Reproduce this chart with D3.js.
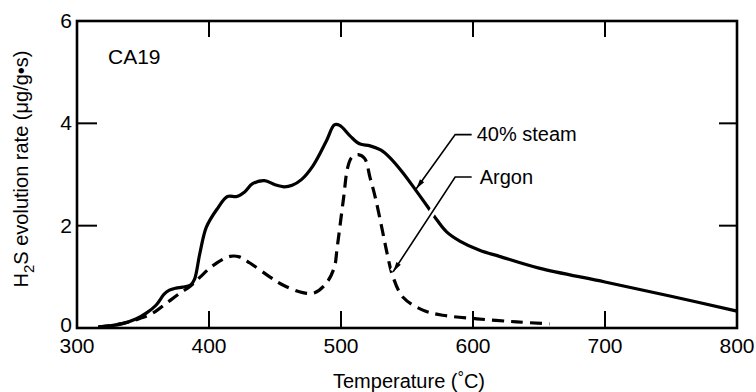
<!DOCTYPE html>
<html>
<head>
<meta charset="utf-8">
<script src="https://cdn.jsdelivr.net/npm/d3@7"></script>
<style>
  body { margin: 0; background: #fff; }
  text { font-family: "Liberation Sans", Arial, sans-serif; fill: #000; }
</style>
</head>
<body>
<div id="chart"></div>
<script>
// 40% steam (solid) - temperature, rate
var steamT = [316, 325, 335, 345, 353, 360, 366, 370, 375, 380, 386, 389, 393, 398, 406, 414, 421, 427, 433, 442, 450, 457, 463, 470, 479, 489, 495, 499, 507, 514, 522, 530, 537, 547, 557, 567, 573, 580, 590, 605, 620, 650, 700, 750, 800];
var steamV = [0.02, 0.04, 0.09, 0.18, 0.3, 0.45, 0.66, 0.74, 0.78, 0.8, 0.84, 0.95, 1.45, 1.97, 2.32, 2.57, 2.57, 2.66, 2.82, 2.88, 2.8, 2.76, 2.79, 2.9, 3.18, 3.66, 3.97, 3.96, 3.75, 3.6, 3.56, 3.48, 3.33, 3.03, 2.68, 2.32, 2.1, 1.88, 1.7, 1.52, 1.4, 1.17, 0.9, 0.62, 0.33];

// Argon (dashed)
var argonT = [316, 335, 348, 358, 368, 378, 386, 393, 403, 416, 423, 431, 446, 456, 471, 480, 489, 495, 497, 502, 505, 508, 513, 518, 522, 526, 531, 535, 539, 547, 562, 577, 603, 633, 658];
var argonV = [0.02, 0.09, 0.19, 0.3, 0.49, 0.68, 0.82, 0.99, 1.22, 1.4, 1.39, 1.27, 1.0, 0.84, 0.69, 0.69, 0.88, 1.19, 1.55, 2.55, 3.13, 3.33, 3.39, 3.31, 2.94, 2.55, 1.95, 1.45, 1.03, 0.6, 0.35, 0.25, 0.18, 0.12, 0.08];

var xTicks = [300, 400, 500, 600, 700, 800];
var yTicks = [0, 2, 4, 6];

// leader lines: [tip, elbow, end] in data units
var steamLeader = [[557, 2.72], [586.5, 3.78], [599, 3.78]];
var argonLeader = [[539.5, 1.1], [586.5, 2.95], [599, 2.95]];

var W = 756, H = 392;
var margin = {top: 21, right: 19, bottom: 64, left: 77};
var w = W - margin.left - margin.right,
    h = H - margin.top - margin.bottom;

var svg = d3.select("#chart").append("svg")
    .attr("width", W)
    .attr("height", H);

var g = svg.append("g")
    .attr("transform", "translate(" + margin.left + "," + margin.top + ")");

var x = d3.scaleLinear().domain([300, 800]).range([0, w]);
var y = d3.scaleLinear().domain([0, 6]).range([h, 0]);

// inward ticks on all four sides
var inner = xTicks.slice(1, -1);
var innerY = yTicks.slice(1, -1);
g.selectAll(".tb").data(inner).enter().append("line")
    .attr("x1", d => x(d)).attr("x2", d => x(d))
    .attr("y1", h).attr("y2", h - 17)
    .attr("stroke", "#000").attr("stroke-width", 2);
g.selectAll(".tt").data(inner).enter().append("line")
    .attr("x1", d => x(d)).attr("x2", d => x(d))
    .attr("y1", 0).attr("y2", 16)
    .attr("stroke", "#000").attr("stroke-width", 2);
g.selectAll(".tl").data(innerY).enter().append("line")
    .attr("x1", 0).attr("x2", 20)
    .attr("y1", d => y(d)).attr("y2", d => y(d))
    .attr("stroke", "#000").attr("stroke-width", 2);
g.selectAll(".tr").data(innerY).enter().append("line")
    .attr("x1", w).attr("x2", w - 18)
    .attr("y1", d => y(d)).attr("y2", d => y(d))
    .attr("stroke", "#000").attr("stroke-width", 2);

// tick labels
g.selectAll(".xl").data(xTicks).enter().append("text")
    .attr("x", d => x(d)).attr("y", h + 25)
    .attr("text-anchor", "middle")
    .style("font-size", "21px")
    .text(d => d);
g.selectAll(".yl").data(yTicks).enter().append("text")
    .attr("x", -5).attr("y", d => y(d) + (d === 0 ? 4 : 7))
    .attr("text-anchor", "end")
    .style("font-size", "21px")
    .text(d => d);

// curves
var line = d3.line()
    .x(d => x(d[0])).y(d => y(d[1]))
    .curve(d3.curveCatmullRom.alpha(0.5));

g.append("path")
    .datum(d3.zip(steamT, steamV))
    .attr("d", line)
    .attr("fill", "none").attr("stroke", "#000")
    .attr("stroke-width", 3.2).attr("stroke-linejoin", "round");

g.append("path")
    .datum(d3.zip(argonT, argonV))
    .attr("d", line)
    .attr("fill", "none").attr("stroke", "#000")
    .attr("stroke-width", 3.2)
    .attr("stroke-dasharray", "12,7");

// leaders with arrow heads
var straight = d3.line().x(d => x(d[0])).y(d => y(d[1]));

function leader(pts, halo) {
  if (halo) {
    g.append("path").attr("d", straight(pts.slice(0, 2)))
      .attr("fill", "none").attr("stroke", "#fff").attr("stroke-width", 7);
  }
  g.append("path").attr("d", straight(pts))
    .attr("fill", "none").attr("stroke", "#000").attr("stroke-width", 1.6);
  var tx = x(pts[0][0]), ty = y(pts[0][1]);
  var ex = x(pts[1][0]), ey = y(pts[1][1]);
  var a = Math.atan2(ey - ty, ex - tx) * 180 / Math.PI;
  g.append("path")
    .attr("d", "M0,0 L10,-2.6 L10,2.6 Z")
    .attr("transform", "translate(" + tx + "," + ty + ") rotate(" + a + ")")
    .attr("fill", "#000");
}
leader(steamLeader, false);
leader(argonLeader, true);

g.append("text")
    .attr("x", x(steamLeader[2][0]) + 5).attr("y", y(steamLeader[2][1]) + 6)
    .style("font-size", "20px").text("40% steam");
g.append("text")
    .attr("x", x(argonLeader[2][0]) + 8).attr("y", y(argonLeader[2][1]) + 7)
    .style("font-size", "20px").text("Argon");

// frame
g.append("rect")
    .attr("width", w).attr("height", h)
    .attr("fill", "none").attr("stroke", "#000").attr("stroke-width", 2.6);

g.append("text")
    .attr("x", 31).attr("y", 43)
    .style("font-size", "21px").text("CA19");

// axis titles
svg.append("text")
    .attr("x", margin.left + w / 2 + 2).attr("y", 388)
    .attr("text-anchor", "middle")
    .style("font-size", "20px")
    .html('Temperature (<tspan dy="-5" font-size="16px">\u00b0</tspan><tspan dy="5">C)</tspan>');

svg.append("text")
    .attr("transform", "translate(28," + 169 + ") rotate(-90)")
    .attr("text-anchor", "middle")
    .style("font-size", "20px")
    .html('H<tspan dy="6" font-size="15px">2</tspan><tspan dy="-6">S evolution rate (\u03bcg/g\u2022s)</tspan>');
</script>
</body>
</html>
